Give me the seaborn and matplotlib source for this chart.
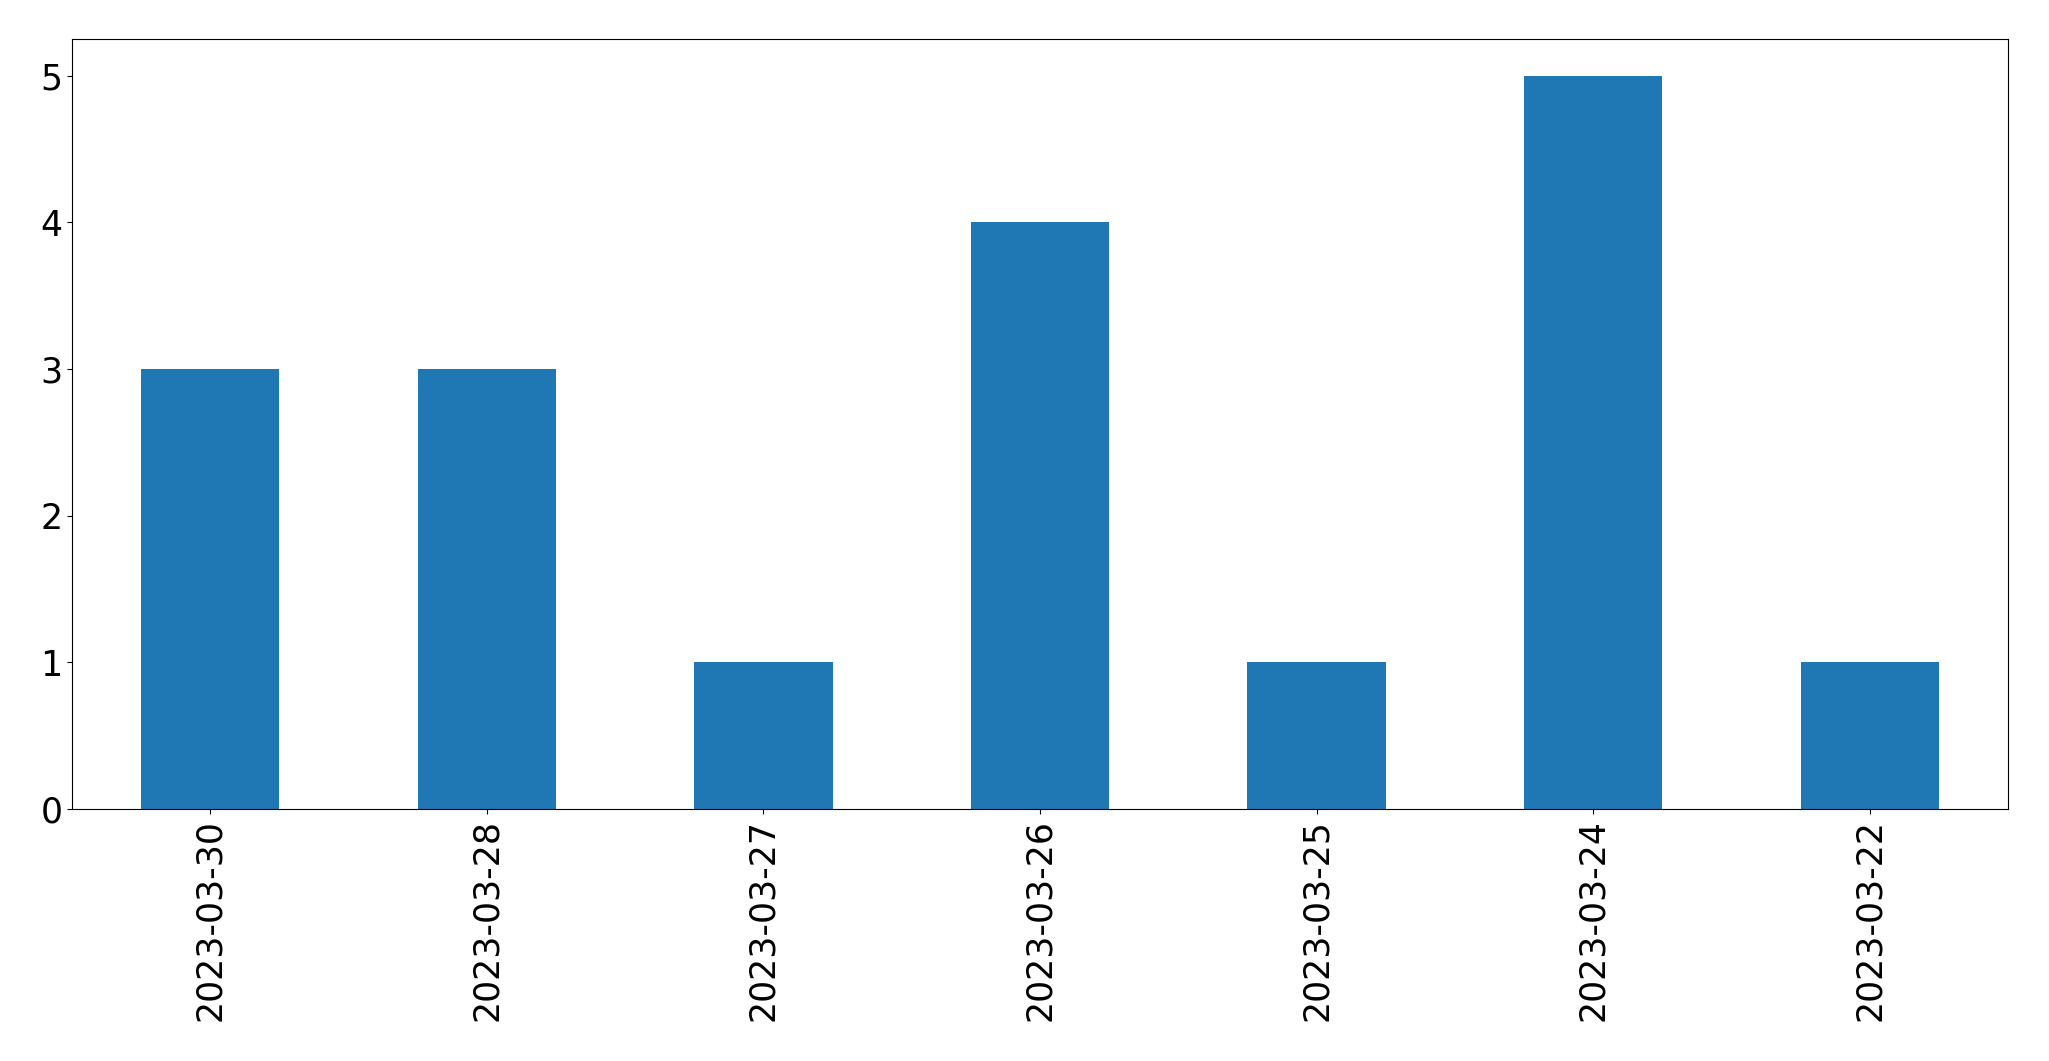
import matplotlib
matplotlib.use("Agg")
import matplotlib.pyplot as plt
import seaborn as sns
import pandas as pd

dates = ["2023-03-30", "2023-03-28", "2023-03-27", "2023-03-26", "2023-03-25", "2023-03-24", "2023-03-22"]
counts = [3, 3, 1, 4, 1, 5, 1]

df = pd.DataFrame({"date": dates, "count": counts})

fig = plt.figure(figsize=(20.49, 10.61), dpi=100)
ax = fig.add_axes([72/2049, 1 - 809/1061, (2008-72)/2049, (809-39)/1061])
sns.barplot(data=df, x="date", y="count", order=dates, color="#1f77b4", saturation=1,
            width=0.5, ax=ax)
ax.set_xlim(-0.5, len(dates) - 0.5)
ax.set_ylim(0, 5.25)
ax.set_xlabel("")
ax.set_ylabel("")
ax.tick_params(axis="both", labelsize=25)
plt.setp(ax.get_xticklabels(), rotation=90)
fig.savefig("out.png", dpi=100)
